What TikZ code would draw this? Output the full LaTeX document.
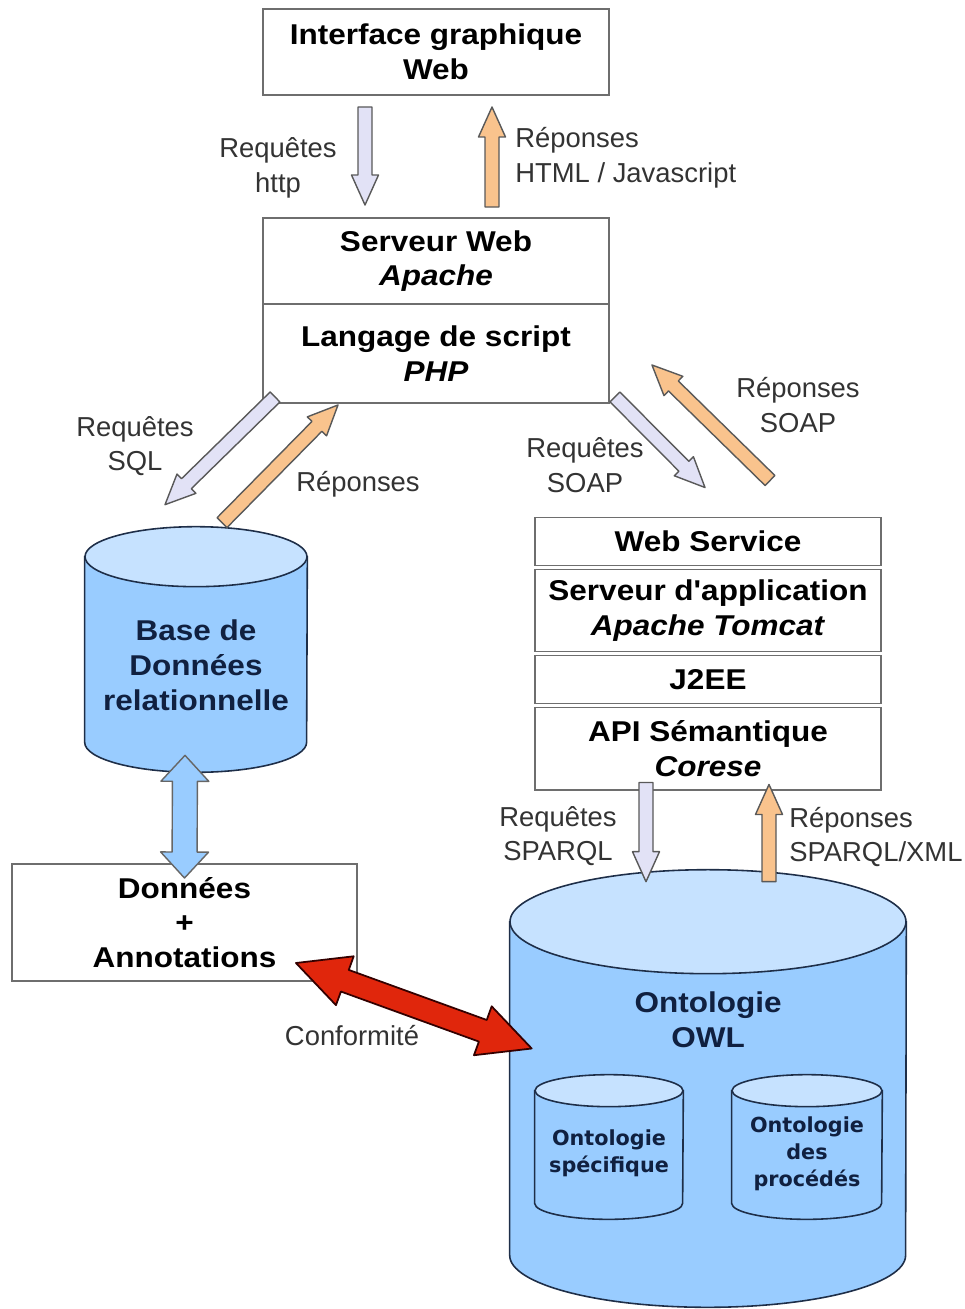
\documentclass[tikz,border=0pt]{standalone}
\usepackage{fontspec}
\setmainfont{Liberation Sans}
\newfontfamily\boxfont[FakeStretch=1.1]{Liberation Sans}
\newfontfamily\cylfont{DejaVu Sans}
\usetikzlibrary{calc,backgrounds,positioning}
\definecolor{reqfill}{HTML}{E2E2F6}
\definecolor{resfill}{HTML}{F9C38D}
\definecolor{cylblue}{HTML}{99CCFF}
\definecolor{cyltop}{HTML}{C6E2FF}
\definecolor{cylline}{HTML}{1E2E48}
\definecolor{cyltext}{HTML}{102040}
\definecolor{confred}{HTML}{E0260C}
\definecolor{boxline}{HTML}{6E6E6E}
\definecolor{lbltext}{HTML}{333333}
\tikzset{
	layer/.style={draw=boxline, line width=1.1pt, fill=white, minimum width=6.92cm, inner sep=0pt, outer sep=0pt, align=center, font=\boxfont\bfseries\fontsize{16.3}{19.8}\selectfont},
	lbl/.style={text=lbltext, inner sep=0pt, align=center, font=\fontsize{15.6}{19.8}\selectfont},
	cyl/.style={inner sep=0pt},
	cyltxt/.style={text=cyltext, inner sep=0pt, align=center, font=\boxfont\bfseries\fontsize{16.3}{19.8}\selectfont},
	smalltxt/.style={text=cyltext, inner sep=0pt, align=center, font=\cylfont\bfseries\fontsize{11.8}{15.3}\selectfont},
	cylbody/.style={fill=cylblue, draw=cylline, line width=0.9pt},
	cyllid/.style={fill=cyltop, draw=cylline, line width=0.9pt},
	reqarrow/.style={fill=reqfill, draw=black!65, line width=0.8pt, line join=round},
	resarrow/.style={fill=resfill, draw=black!65, line width=0.8pt, line join=round},
	bigarrow/.style={fill=cylblue, draw=black!60, line width=0.8pt, line join=round},
	redarrow/.style={fill=confred, draw=black!80!red, line width=1pt, line join=round}
}
% style, from, to, half shaft, half head, head length
\newcommand{\fatarrow}[6]{%
	\coordinate (fa-s) at (#2);
	\coordinate (fa-e) at (#3);
	\coordinate (fa-h) at ($(fa-e)!#6!(fa-s)$);
	\draw[#1] ($(fa-s)!#4!90:(fa-e)$) -- ($(fa-h)!#4!90:(fa-e)$) -- ($(fa-h)!#5!90:(fa-e)$) -- (fa-e)
		-- ($(fa-h)!#5!-90:(fa-e)$) -- ($(fa-h)!#4!-90:(fa-e)$) -- ($(fa-s)!#4!-90:(fa-e)$) -- cycle;
}
\newcommand{\fatdarrow}[6]{%
	\coordinate (fa-s) at (#2);
	\coordinate (fa-e) at (#3);
	\coordinate (fa-h) at ($(fa-e)!#6!(fa-s)$);
	\coordinate (fa-t) at ($(fa-s)!#6!(fa-e)$);
	\draw[#1] (fa-s) -- ($(fa-t)!#5!90:(fa-e)$) -- ($(fa-t)!#4!90:(fa-e)$) -- ($(fa-h)!#4!90:(fa-e)$) -- ($(fa-h)!#5!90:(fa-e)$) -- (fa-e)
		-- ($(fa-h)!#5!-90:(fa-e)$) -- ($(fa-h)!#4!-90:(fa-e)$) -- ($(fa-t)!#4!-90:(fa-e)$) -- ($(fa-t)!#5!-90:(fa-e)$) -- cycle;
}
% node, x radius, y radius
\newcommand{\drawcyl}[3]{%
	\filldraw[cylbody] (#1.north west) -- (#1.south west) arc[start angle=180, end angle=360, x radius=#2, y radius=#3] -- (#1.north east) -- cycle;
	\filldraw[cyllid] (#1.north) ellipse[x radius=#2, y radius=#3];
}
\begin{document}
\begin{tikzpicture}[x=0.02cm, y=-0.02cm]
	\useasboundingbox (0,0) rectangle (964,1309);
	%%%web part
	\node[layer, minimum height=1.72cm] (gui) at (436,52) {Interface graphique\\Web};
	\node[layer, minimum height=1.72cm] (apache) at (436,261) {Serveur Web\\\textit{Apache}};
	\node[layer, minimum height=1.98cm, below=0pt of apache] (php) {Langage de script\\\textit{PHP}};
	
	%%%web service stack
	\node[layer, minimum height=0.96cm] (ws) at (708,541.5) {Web Service};
	\node[layer, minimum height=1.64cm, below=0.08cm of ws] (tomcat) {Serveur d'application\\\textit{Apache Tomcat}};
	\node[layer, minimum height=0.96cm, below=0.08cm of tomcat] (j2ee) {J2EE};
	\node[layer, minimum height=1.66cm, below=0.08cm of j2ee] (corese) {API Sémantique\\\textit{Corese}};
	
	\node[layer, minimum width=6.9cm, minimum height=2.34cm] (annot) at (184.5,922.5) {Données\\+\\Annotations};
	
	%%%databases
	\node[cyl, minimum width=4.44cm, minimum height=3.7cm, label={[cyltxt, yshift=-0.31cm]center:Base de\\Données\\relationnelle}] (bdd) at (196,649.5) {};
	\node[cyl, minimum width=7.92cm, minimum height=6.66cm, label={[cyltxt, yshift=1.37cm]center:Ontologie\\OWL}] (owl) at (708,1088.5) {};
	\node[cyl, minimum width=2.96cm, minimum height=2.24cm, label={[smalltxt, yshift=-0.13cm]center:Ontologie\\spécifique}] (spec) at (609,1147) {};
	\node[cyl, minimum width=3cm, minimum height=2.24cm, label={[smalltxt, yshift=-0.13cm]center:Ontologie\\des\\procédés}] (proc) at (807,1147) {};
	\begin{scope}[on background layer]
		\drawcyl{bdd}{2.22cm}{0.6cm}
		\drawcyl{owl}{3.96cm}{1.04cm}
		\drawcyl{spec}{1.48cm}{0.32cm}
		\drawcyl{proc}{1.5cm}{0.32cm}
	\end{scope}
	
	%%%requests and answers
	\fatarrow{reqarrow}{$(gui.south)+(-71,12)$}{$(apache.north)+(-71,-13)$}{0.14cm}{0.27cm}{0.6cm}
	\fatarrow{resarrow}{$(apache.north)+(56,-11)$}{$(gui.south)+(56,12)$}{0.14cm}{0.27cm}{0.6cm}
	\fatarrow{reqarrow}{$(php.south west)+(12,-6)$}{$(bdd.north)+(-31,-52)$}{0.14cm}{0.27cm}{0.6cm}
	\fatarrow{resarrow}{$(bdd.north)+(26,-34)$}{$(php.south)+(-98,2)$}{0.14cm}{0.27cm}{0.6cm}
	\fatarrow{reqarrow}{$(php.south east)+(6,-6)$}{$(ws.north)+(-3,-30)$}{0.14cm}{0.27cm}{0.6cm}
	\fatarrow{resarrow}{$(ws.north)+(62,-37)$}{$(php.east)+(43,11.5)$}{0.14cm}{0.27cm}{0.6cm}
	\fatarrow{reqarrow}{$(corese.south)+(-62,-8)$}{$(owl.north)+(-62,-40)$}{0.14cm}{0.27cm}{0.6cm}
	\fatarrow{resarrow}{$(owl.north)+(61,-40)$}{$(corese.south)+(61,-6)$}{0.14cm}{0.27cm}{0.6cm}
	\fatdarrow{bigarrow}{$(bdd.south)+(-11,13)$}{$(annot.north)+(0,14)$}{0.25cm}{0.48cm}{0.52cm}
	\fatdarrow{redarrow}{$(annot.south east)+(-61,-18)$}{$(owl.west)+(22,-40)$}{0.23cm}{0.52cm}{1.04cm}
	
	%%%labels
	\node[lbl] (lhttp) at (278,168) {Requêtes\\http};
	\node[lbl, anchor=west, align=left] (lhtml) at (515,158) {Réponses\\HTML / Javascript};
	\node[lbl] (lsql) at (135,446) {Requêtes\\SQL};
	\node[lbl] (lrep) at (358,484) {Réponses};
	\node[lbl] (lsoapq) at (585,465) {Requêtes\\SOAP};
	\node[lbl] (lsoapr) at (798,405) {Réponses\\SOAP};
	\node[lbl] (lsparqlq) at (558,836) {Requêtes\\SPARQL};
	\node[lbl, anchor=west, align=left] (lsparqlr) at (789,837) {Réponses\\SPARQL/XML};
	\node[lbl] (lconf) at (352,1036) {Conformité};
\end{tikzpicture}
\end{document}
